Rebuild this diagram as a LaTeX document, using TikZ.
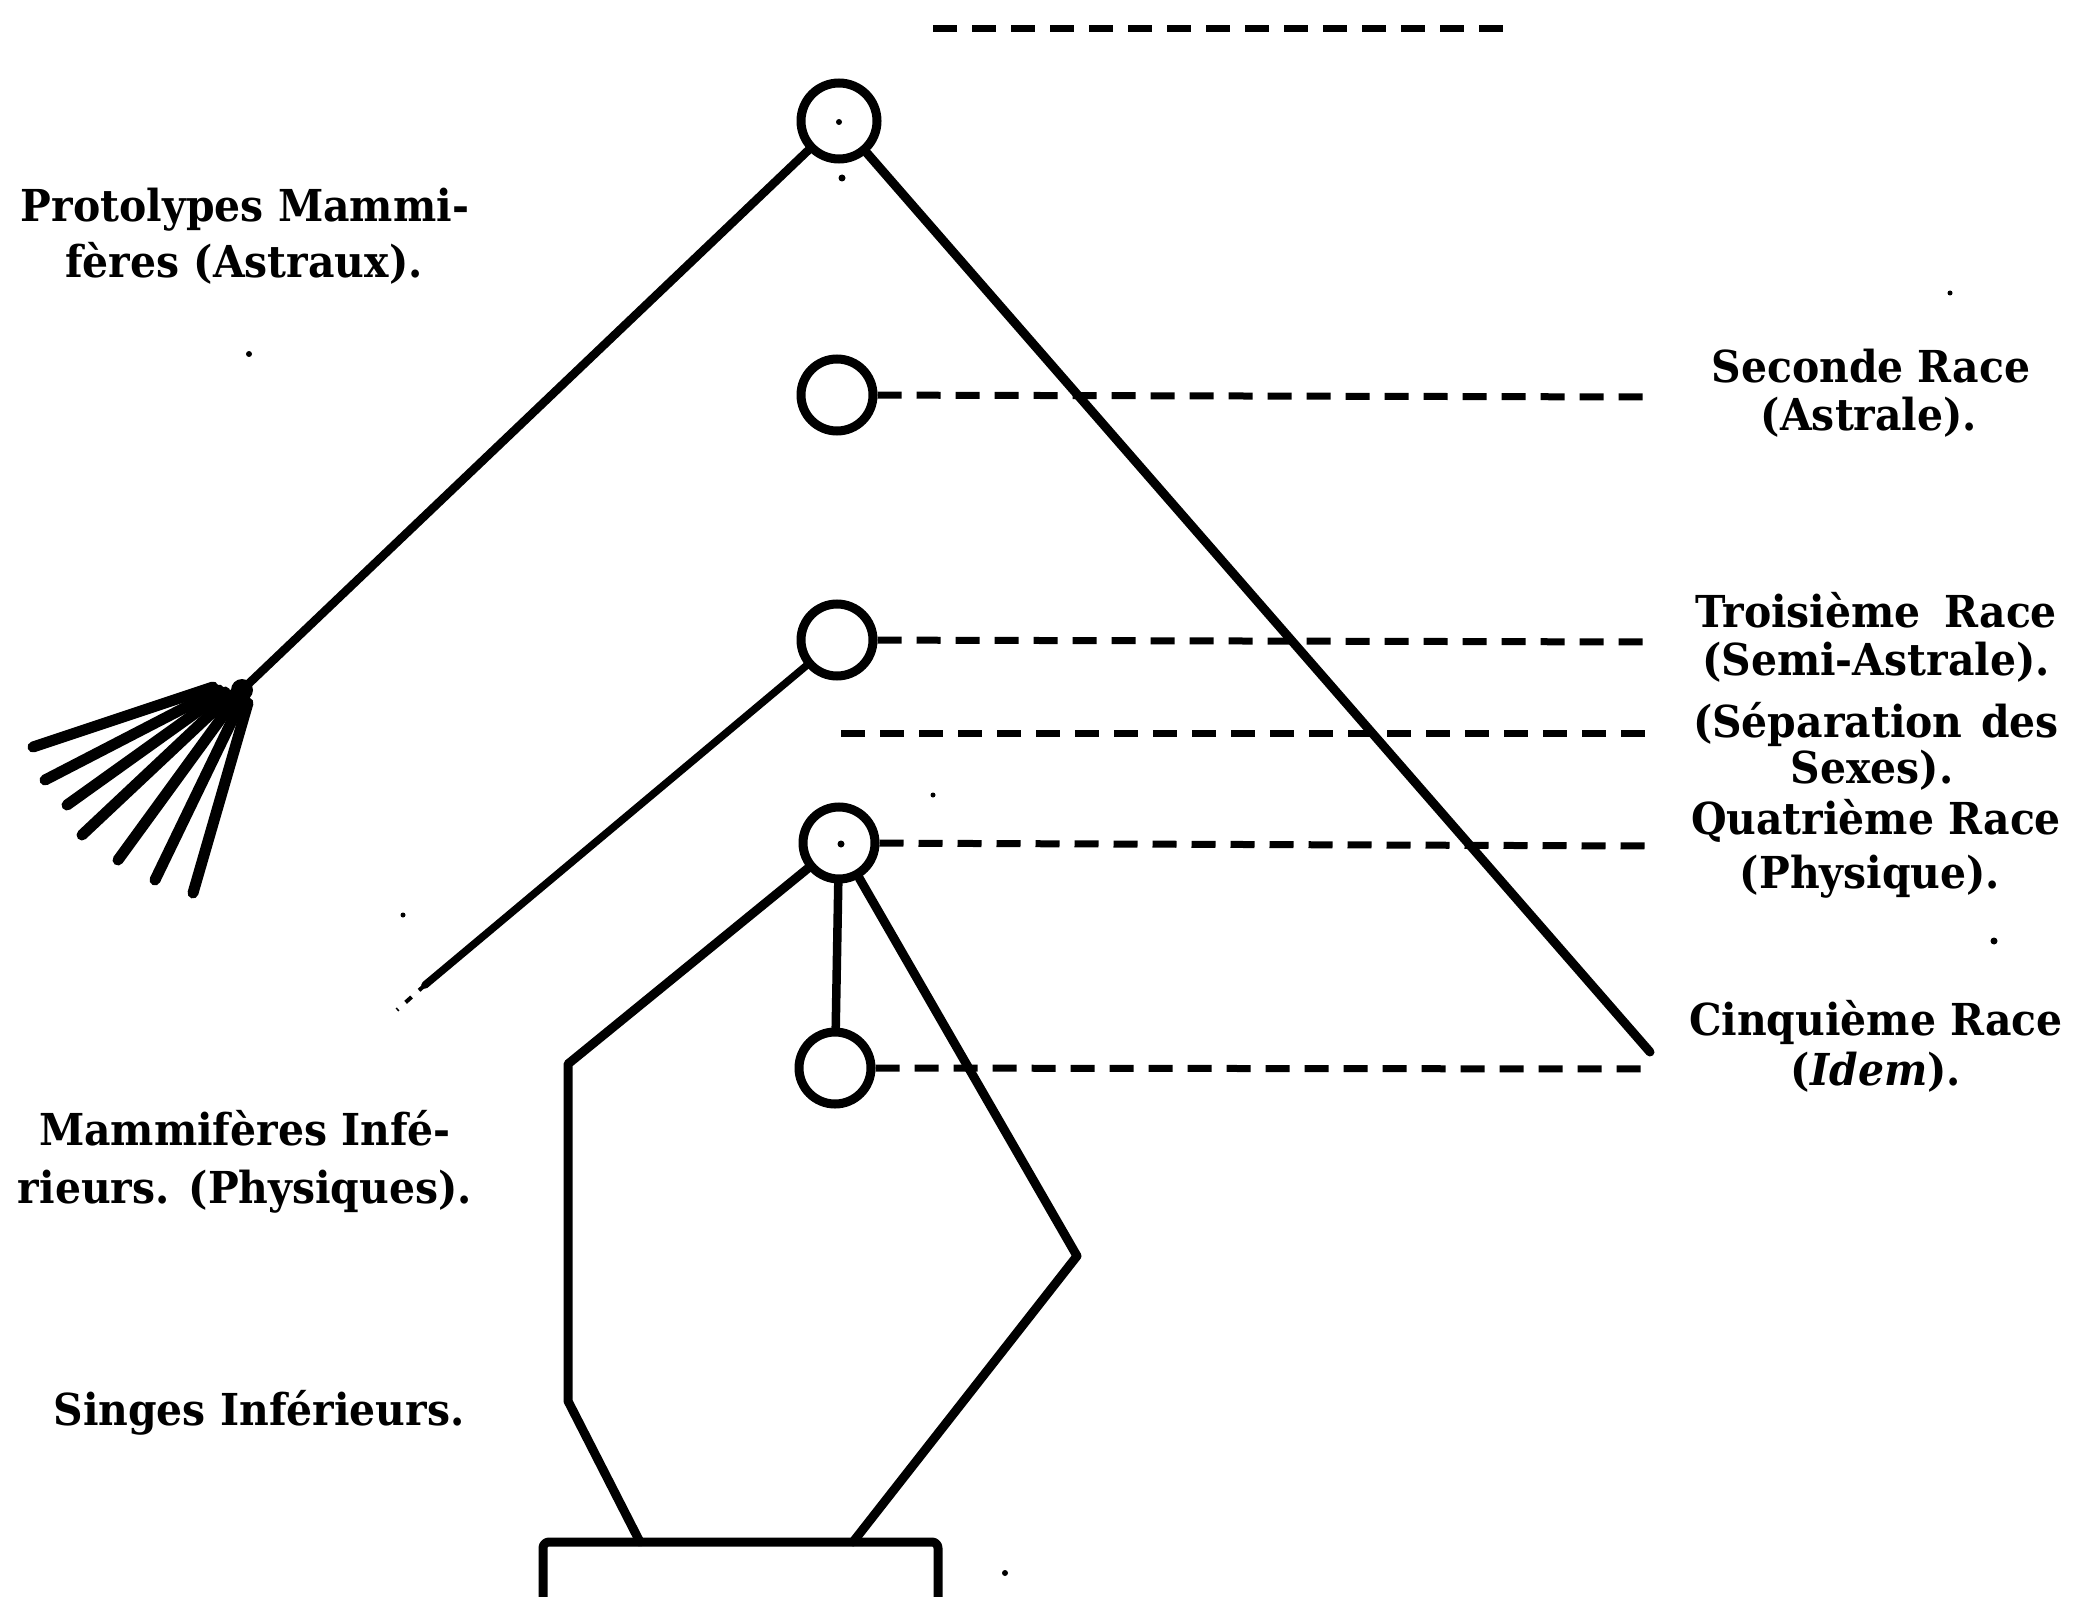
\documentclass[tikz,border=0pt]{standalone}
\usepackage{fontspec}
\setmainfont{DejaVu Serif}[FakeStretch=0.93]
\begin{document}
\begin{tikzpicture}[x=1pt,y=-1pt,
  ring/.style={circle,draw,line width=9pt,minimum size=72pt,inner sep=0pt},
  stem/.style={line width=8.5pt,line cap=round,line join=round},
  rib/.style={line width=11pt,line cap=round},
  dashline/.style={line width=7pt,dash pattern=on 24pt off 15pt},
  lbl/.style={font=\fontsize{44}{50}\selectfont\bfseries,inner sep=0pt,anchor=base},
  speck/.style={fill=black}]
\useasboundingbox (0,0) rectangle (2073,1597);

% circles
\node[ring,minimum size=76pt] (c1) at (839,121) {};
\node[ring] (c2) at (837,395) {};
\node[ring] (c3) at (837,640) {};
\node[ring] (c4) at (839,843) {};
\node[ring] (c5) at (835,1068) {};

% coordinates
\coordinate (topL) at (933,29);
\coordinate (topR) at (1511,29);
\coordinate (J) at (242,690);
\coordinate (rEnd) at (1650,1052);
\coordinate (d2) at (1650,397);
\coordinate (d3) at (1650,642);
\coordinate (sepL) at (841,733);
\coordinate (sepR) at (1650,733);
\coordinate (d4) at (1650,846);
\coordinate (d5) at (1650,1069);
\coordinate (mEnd) at (425,985);
\coordinate (mTip) at (397,1010);
\coordinate (pL1) at (568,1064);
\coordinate (pL2) at (568,1401);
\coordinate (pL3) at (640,1542);
\coordinate (pR1) at (1077,1256);
\coordinate (pR2) at (853,1542);
\coordinate (b1) at (543,1597);
\coordinate (b2) at (543,1542);
\coordinate (b3) at (938,1542);
\coordinate (b4) at (938,1597);

% top dashed line
\draw[dashline] (topL) -- (topR);

% main triangle
\draw[stem] (c1) -- (J);
\draw[stem,line width=9pt] (c1) -- (rEnd);

% fan
\fill (J) circle (11);
\draw[rib] (213,687) -- (33,747);
\draw[rib] (219,690) -- (45,780);
\draw[rib] (225,692) -- (67,805);
\draw[rib] (231,695) -- (82,835);
\draw[rib] (236,698) -- (118,860);
\draw[rib] (242,700) -- (155,880);
\draw[rib] (248,703) -- (193,893);

% dashed race lines
\draw[dashline] (c2) -- (d2);
\draw[dashline] (c3) -- (d3);
\draw[dashline] (sepL) -- (sepR);
\draw[dashline] (c4) -- (d4);
\draw[dashline] (c5) -- (d5);

% middle diagonal
\draw[stem,line width=7.5pt] (c3) -- (mEnd);
\draw[line width=4pt,dash pattern=on 8pt off 10pt] (mEnd) -- (mTip);

% lower figure
\draw[stem] (c4) -- (c5);
\draw[stem,line width=9pt] (c4) -- (pL1) -- (pL2) -- (pL3);
\draw[stem,line width=9pt] (c4) -- (pR1) -- (pR2);
\draw[stem,line width=9pt,rounded corners=6pt] (b1) -- (b2) -- (b3) -- (b4);

% dots
\fill (839,122) circle (3);
\fill (842,178) circle (3.5);
\fill (841,844) circle (3.5);
\fill[speck] (249,354) circle (3);
\fill[speck] (1950,293) circle (2.5);
\fill[speck] (1994,941) circle (3.5);
\fill[speck] (933,795) circle (2.5);
\fill[speck] (403,915) circle (2.5);
\fill[speck] (1005,1573) circle (3);

% left labels
\node[lbl] (l1a) at (245,222) {Protolypes Mammi-};
\node[lbl] (l1b) at (244,278) {fères (Astraux).};
\node[lbl] (l2a) at (245,1145) {Mammifères Infé-};
\node[lbl] (l2b) at (245,1203) {rieurs. (Physiques).};
\node[lbl] (l3) at (259,1425) {Singes Inférieurs.};

% right labels
\node[lbl] (r2a) at (1871,382) {Seconde Race};
\node[lbl] (r2b) at (1869,430) {(Astrale).};
\node[lbl] (r3a) at (1876,627) {\makebox[362pt][s]{Troisième Race}};
\node[lbl] (r3b) at (1876,675) {(Semi-Astrale).};
\node[lbl] (r3c) at (1876,737) {\makebox[366pt][s]{(Séparation des}};
\node[lbl] (r3d) at (1872,783) {Sexes).};
\node[lbl] (r4a) at (1876,834) {Quatrième Race};
\node[lbl] (r4b) at (1870,888) {(Physique).};
\node[lbl] (r5a) at (1876,1035) {Cinquième Race};
\node[lbl] (r5b) at (1876,1085) {(\textit{Idem}).};
\end{tikzpicture}
\end{document}
